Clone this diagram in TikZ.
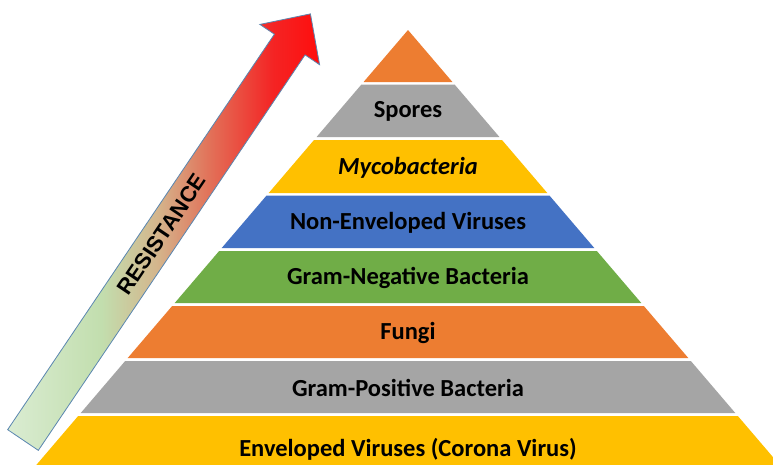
\documentclass[tikz,border=0pt]{standalone}
\usepackage{fontspec}
\setmainfont{Carlito}
\newfontfamily\arrowfont{Liberation Sans}
\definecolor{pyOrange}{HTML}{ED7D31}
\definecolor{pyGray}{HTML}{A5A5A5}
\definecolor{pyYellow}{HTML}{FFC000}
\definecolor{pyBlue}{HTML}{4472C4}
\definecolor{pyGreen}{HTML}{70AD47}
\definecolor{arBorder}{HTML}{5A86B0}
\definecolor{arTail}{HTML}{DAECD2}
\definecolor{arGreen}{HTML}{C2DEAE}
\definecolor{arTan}{HTML}{D4B58C}
\definecolor{arSalmon}{HTML}{E27058}
\definecolor{arRed}{HTML}{F42424}
\definecolor{arHigh}{HTML}{FF0D0D}
\pgfdeclarehorizontalshading{resshade}{100bp}{
  color(0bp)=(arTail); color(25bp)=(arTail); color(40bp)=(arGreen);
  color(49bp)=(arTan); color(57.5bp)=(arSalmon); color(67.5bp)=(arRed);
  color(75bp)=(arHigh); color(100bp)=(arHigh)}
\tikzset{
  lbl/.style={font=\bfseries\fontsize{24.5}{24.5}\selectfont, text=black, inner sep=0pt},
  arrowtxt/.style={font=\arrowfont\bfseries\fontsize{22}{22}\selectfont, text=black, inner sep=0pt}
}
\begin{document}
\begin{tikzpicture}[x=1pt,y=-1pt]
\useasboundingbox (0,0) rectangle (773,464);
\clip (0,0) rectangle (773,464);
\fill[white] (0,0) rectangle (773,464);
% pyramid layers
\foreach \t/\b/\c/\txt/\n in {
  30/82/pyOrange//ltop,
  84.5/137/pyGray/Spores/lspores,
  140/193/pyYellow/{\itshape Mycobacteria}/lmyco,
  195.5/248/pyBlue/Non-Enveloped Viruses/lnonenv,
  251/303/pyGreen/Gram-Negative Bacteria/lgramneg,
  306/358/pyOrange/Fungi/lfungi,
  361/413/pyGray/Gram-Positive Bacteria/lgrampos,
  416/480/pyYellow/Enveloped Viruses (Corona Virus)/lenv}
{
  \pgfmathsetmacro\wt{(\t-30)*0.8545}
  \pgfmathsetmacro\wb{(\b-30)*0.8545}
  \fill[\c] ({408-\wt},\t) -- ({408+\wt},\t) -- ({408+\wb},\b) -- ({408-\wb},\b) -- cycle;
  \node[lbl] (\n) at (408,{(\t+\b)/2+1}) {\txt};
}
% resistance arrow
\begin{scope}[shift={(23,440)}, rotate=56]
  \shade[shading=resshade, draw=arBorder, line width=0.8pt]
    (0,18.5) -- (477,18.5) -- (477,36) -- (514,0) -- (477,-36) -- (477,-18.5) -- (0,-18.5) -- cycle;
  \node[arrowtxt, rotate=56] (res) at (248,0) {RESISTANCE};
\end{scope}
\end{tikzpicture}
\end{document}
